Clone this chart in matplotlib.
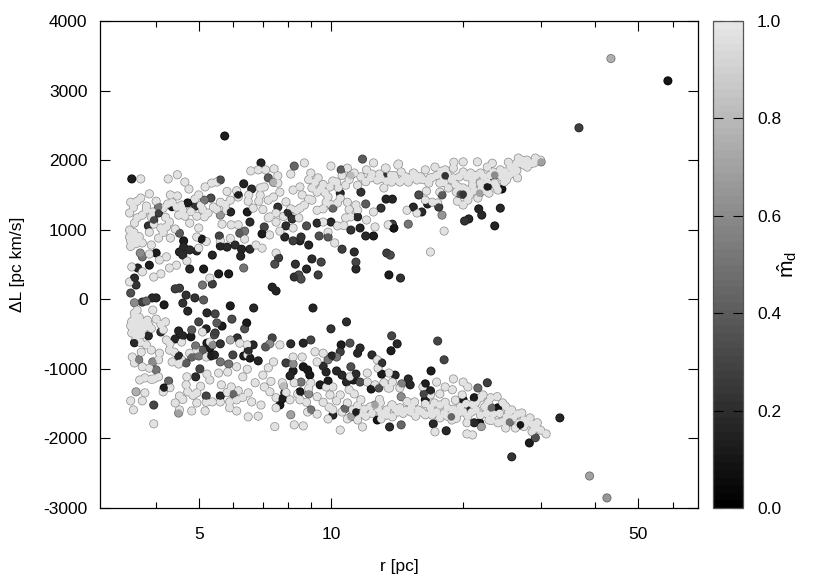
import matplotlib
matplotlib.use("Agg")
import matplotlib.pyplot as plt
from matplotlib.colors import LinearSegmentedColormap, Normalize
from matplotlib.cm import ScalarMappable
from matplotlib.ticker import FixedLocator, FixedFormatter, NullFormatter

plt.rcParams['font.family'] = ['Liberation Sans', 'DejaVu Sans']
plt.rcParams['axes.unicode_minus'] = False
plt.rcParams['mathtext.fontset'] = 'custom'
plt.rcParams['mathtext.rm'] = 'Liberation Sans'
plt.rcParams['mathtext.it'] = 'Liberation Sans'

X_LABEL = "r [pc]"
Y_LABEL = "ΔL [pc km/s]"
CBAR_LABEL = r"$\hat{\mathrm{m}}_{\mathrm{d}}$"
X_TICKS = [5, 10, 50]
X_MINOR = [4, 6, 7, 8, 9, 20, 30, 40, 60]
Y_TICKS = [-3000, -2000, -1000, 0, 1000, 2000, 3000, 4000]
CBAR_TICKS = [0.0, 0.2, 0.4, 0.6, 0.8, 1.0]
LIGHT_MD = 0.97

# (r, dL) of the nearly-white points: upper band
light_upper = [
(3.69,1730),(4.26,1730),(4.47,1790),(4.65,1685),(4.75,1585),(5.17,1615),(5.35,1670),(5.5,1685),(5,1500),(4.9,1440),
(4.31,1500),(4.47,1485),(3.86,1515),(3.69,1455),(3.62,1410),(3.5,1395),(4,1410),(4.25,1370),(4.45,1325),(4.57,1355),
(3.48,1240),(3.72,1210),(3.62,1170),(3.57,1095),(3.93,1255),(4.29,1110),(4.1,1025),(4.22,1040),(4.42,1010),(3.86,965),
(3.48,995),(3.48,895),(3.52,780),(3.62,850),(3.72,810),(3.9,780),(4.31,880),(5,1025),(4.95,895),(5,735),
(4.77,1095),(4.65,1195),(4.95,1195),(5.15,1185),(5.4,1325),(5.6,1395),(5.9,1425),(6.15,1470),(6.48,1410),(6.85,1410),
(7.2,1425),(7.4,1470),(7.65,1540),(6.9,1600),(7.05,1615),(6.57,1845),(6.83,1860),(7.1,1860),(7.42,1875),(7.57,1775),
(7.57,1670),(6.65,1310),(5.78,1280),(5.65,1080),(5.93,1070),(6.15,1070),(6.36,865),(6.75,780),(6.97,735),(7.25,925),
(7.65,980),(7.5,1110),(7.26,1185),(7.5,1240),(8.2,1570),(8.5,1615),(8.1,1800),(8.7,1960),(9,1815),(9.35,1745),
(9.05,1600),(9.3,1540),(9.05,1425),(10,1915),(10.9,1885),(11.3,1815),(12.05,1860),(12.5,1960),(13.35,1885),(14.2,1930),
(12.75,1715),(12.3,1745),(9.95,1615),(10.3,1685),(10.8,1640),(11.5,1640),(9.85,1470),(9.75,1395),(10.5,1455),(10.9,1395),
(11.4,1355),(11.5,1280),(10.35,1385),(8.5,1310),(8.35,1280),(8.7,1355),(8.45,1170),(7.2,1170),(9.6,1110),(10.35,1055),
(10.8,1170),(11.1,1185),(9.85,965),(10.2,810),(12.05,1140),(12.6,1040),(12.5,1255),(13.5,1070),(8.2,1025),(7.5,665),
(5.3,305),(3.95,320),(4.1,365),(4.29,450),(4.45,490),(4.07,565),(4.22,610),(3.72,395),(3.52,465),(3.48,250),
(3.86,650),(4.7,550),(5.9,875),(5.6,840),(5.2,830),
(13.3,1885),(14.25,1945),(14.45,1830),(15.4,1815),(16.4,1860),(17.25,1900),(19.05,1970),(20,1975),(21.55,1975),(23.3,1955),
(25.35,1970),(26.7,2030),(27.95,2000),(29.2,2030),(30,2000),(28.6,1955),(27.5,1930),(26,1885),(26.6,1745),(25.1,1715),
(24.3,1860),(24.8,1685),(23.4,1830),(22.7,1900),(21.9,1815),(20.8,1815),(20,1830),(19,1885),(18.2,1860),(17.7,1670),
(16.7,1670),(15.7,1715),(15,1685),(14.35,1685),(13.75,1685),(13.2,1600),(19,1745),(21,1715),(21.9,1670),(22.9,1525),
(24,1570),(23.6,1670),(18.5,1600),(19.5,1615),(20.4,1570),(21.6,1455),(20.5,1425),(20,1355),(19.4,1410),(17.7,1540),
(16.5,1555),(16.4,1425),(17,1395),(17.5,1385),(14.9,1280),(15.7,1240),(18.1,980),(16.85,680),(22,1600),(27,1955),
(25.9,1815),(24.5,1760),(22.7,1685),(13.9,1780),(14.8,1760),(16,1760),(17,1750),(18,1760),(12.9,1800),(13.7,1780),
# dense parts of the ridge and of the left blob
(10.6,1780),(10.1,1700),(9.6,1650),(9.2,1680),(9.5,1590),(8.9,1720),(9.7,1530),(10.4,1600),(11,1720),(11.7,1760),
(12,1690),(12.4,1800),(13,1740),(13.4,1700),(14,1730),(14.6,1720),(15.2,1740),(15.6,1780),(16.2,1720),(16.8,1740),
(17.4,1780),(17.8,1840),(18.4,1800),(18.8,1720),(19.6,1760),(20.4,1760),(21.4,1780),(22.3,1760),(23,1780),(24,1800),
(24.9,1830),(25.6,1900),(26.4,1950),(27.2,2000),(28.2,1960),(29,1960),(28,1900),(26.5,1850),(25.4,1780),(23.8,1620),
(22.4,1560),(21.2,1560),(20.7,1500),(20,1600),(19.3,1540),(21,1640),(19.2,1650),(18.1,1680),
(3.5,840),(3.54,900),(3.6,800),(3.56,960),(3.5,760),(3.66,900),(3.55,1320),(3.8,1340),(3.9,1180),(3.8,1290),
(4.15,1310),(4.35,1390),(4.6,1280),(4.8,1260),(5.1,1290),(5.25,1240),(5.05,1350),(5.5,1290),(4.05,880),(4.15,960),
(4.5,1210),(3.95,1080),(4.2,1180),(7,1290),(6.9,1495),(7.9,1400),(8.1,1300),(7.8,1190),(8.6,1500),(8.9,1440),
(9.3,1280),(9.6,1300),(10,1360),(11,1290),(10.7,1060),(6.5,1500),(6.1,1560),(5.8,1550),(5.75,1360),
]

# (r, dL) of the nearly-white points: lower band
light_lower = [
(3.62,-300),(3.52,-320),(3.53,-410),(3.52,-485),(3.67,-370),(3.72,-440),(3.62,-485),(3.57,-200),(3.82,-300),(4,-285),
(3.93,-155),(3.62,-155),(3.8,-655),(3.9,-730),(4.2,-325),(4.15,-440),(4.22,-585),(4.57,-615),(4.29,-730),(4.07,-775),
(4.05,-870),(4.35,-900),(3.53,-830),(3.57,-915),(3.72,-970),(3.86,-990),(4.57,-870),(4.77,-775),(4.95,-730),(5.1,-470),
(5.2,-830),(3.67,-1160),(3.77,-1130),(4.05,-1115),(3.95,-1145),(4.7,-1115),(4.68,-1230),(4.72,-1330),(4.95,-1345),(4.15,-1330),
(3.77,-1345),(3.5,-1460),(3.72,-1460),(3.55,-1590),(3.95,-1790),(4.52,-1390),(4.42,-1490),(4.52,-1590),(4.95,-1490),(4.82,-1605),
(5.17,-1605),(5.37,-1475),(5.6,-1475),(5.88,-1475),(5.88,-1560),(6.1,-1605),(6.48,-1690),(6.83,-1680),(6.93,-1520),(6.6,-1475),
(6.48,-1345),(6.3,-1115),(6.45,-1005),(6.1,-970),(5.82,-1045),(5.63,-1230),(5.93,-1260),(6.15,-1315),(6.1,-1445),(5.22,-1075),
(5.3,-1160),(6.2,-630),(6.45,-655),(7.65,-655),(7.4,-900),(7.2,-985),(7,-1090),(6.72,-1200),(7.05,-1260),(7.26,-1330),
(7.5,-1415),(7.75,-1200),(8.2,-830),(8.6,-830),(8.25,-1200),(8.5,-1445),(8.07,-1445),(7.45,-1830),(8.25,-1805),(8.65,-1820),
(7.5,-1560),(9.3,-1650),(8.85,-1620),(9.3,-1400),(9.75,-1260),(9.95,-1375),(10.1,-1260),(10.5,-1375),(9,-1200),(9.2,-755),
(9.6,-775),(9.3,-900),(9.85,-1720),(10.5,-1880),(11.8,-1835),(11.5,-1735),(10.1,-1590),(10.9,-1490),(11.7,-1445),(11.3,-1360),
(12.3,-1545),(13,-1635),(13.8,-1520),(13.8,-1690),(13.4,-1665),(14.2,-1620),(12.1,-1060),(12.8,-990),(12.75,-870),(13.55,-1060),
(12.1,-1190),(12.6,-1230),(13.6,-1275),(11.05,-1115),(6.45,-800),(5.3,-615),
(19,-1145),(20,-1190),(17.4,-1190),(18.2,-1260),(18.9,-1300),(19.9,-1375),(20.5,-1260),(17.7,-1360),(16.85,-1375),(13.8,-1190),
(14.35,-1275),(13.5,-1275),(13.75,-1520),(14.35,-1560),(15.25,-1545),(15.5,-1475),(16.1,-1620),(16.85,-1560),(17,-1665),(17.7,-1705),
(18.4,-1560),(18.85,-1735),(19.5,-1635),(19.7,-1545),(20.4,-1775),(17.25,-1905),(20.4,-1935),(21,-1950),(21.9,-1415),(22.2,-1375),
(23.1,-1415),(23.9,-1400),(21.4,-1590),(21.9,-1665),(22.9,-1735),(22.4,-1545),(24,-1775),(25,-1850),(24.6,-1490),(25.8,-1590),
(27.2,-1635),(28.4,-1705),(29.5,-1775),(30.9,-1935),(30,-1880),(28.7,-1905),(27.5,-1830),(26.3,-1850),(26,-1705),(25.1,-1690),
(27.5,-1735),(12.95,-1490),(16.2,-1260),(17.7,-1520),(14.8,-1600),(15.8,-1590),(16.4,-1500),(18.9,-1640),(11.9,-1580),(12.8,-1570),
# dense parts of the ridge and of the left blob
(12.4,-1640),(12,-1680),(11.2,-1590),(10.6,-1620),(11.6,-1650),(13,-1720),(13.4,-1590),(14,-1570),(14.6,-1640),(15.2,-1620),
(15.6,-1680),(16.4,-1660),(16.9,-1640),(17.4,-1620),(18.1,-1640),(18.4,-1680),(19,-1580),(19.3,-1710),(20,-1620),(20.5,-1680),
(21,-1510),(20.9,-1620),(22.6,-1640),(23.4,-1650),(23.2,-1740),(24.2,-1640),(25,-1540),(25.4,-1620),(26.6,-1650),(26.8,-1780),
(27.9,-1780),(28.8,-1800),(29.3,-1850),(24.6,-1760),(21.4,-1480),(22.8,-1480),(20.3,-1500),(19.2,-1450),(18.2,-1480),(17.2,-1490),
(3.56,-380),(3.6,-440),(3.66,-260),(3.72,-330),(3.78,-400),(3.5,-380),(3.58,-250),(3.84,-360),(3.9,-420),(3.7,-510),
(3.6,-560),(3.68,-620),(4.1,-360),(4.3,-640),(4.4,-760),(3.7,-760),(4.5,-930),(3.9,-1150),(4.3,-1270),(4.6,-1440),
(4.85,-1380),(5.05,-1250),(5.2,-1480),(5.55,-1060),(5.8,-1340),(6.3,-1410),(7.3,-1180),(7.9,-1340),(8.4,-1360),(8.8,-1480),
(8.9,-1280),(9.6,-1480),(9.9,-1550),(10.9,-1720),(10.3,-1460),(11,-1300),(11.5,-1530),(12.9,-1440),(13.2,-1200),(14.9,-1470),
]

# (r, dL, md) of the middle-grey points
grey_points = [
(5.6,1715,.35),(11.8,2015,.4),(8.25,1915,.45),(10.55,1860,.4),(7.2,1745,.4),(5.33,1455,.25),(5.15,1425,.5),(4.05,1325,.5),(3.95,1140,.3),(4.52,950,.4),
(5.57,910,.3),(6.36,980,.5),(6.2,950,.4),(7.05,1040,.3),(8.8,1055,.35),(9.4,910,.35),(9.85,895,.4),(12,1370,.4),(10.1,1310,.45),(6.33,450,.5),
(5.1,205,.5),(5.13,-10,.4),(3.57,-50,.6),(3.5,90,.35),(3.8,-25,.45),(5.6,1210,.65),(3.72,610,.5),(3.68,665,.6),(7.4,1680,.75),(11.1,1780,.8),
(30.1,1975,.7),(21.8,1525,.7),(17.9,1500,.4),(17.9,1210,.65),(15,1080,.5),(19.7,1510,.4),(23.6,1785,.6),(15.85,1500,.25),
(5,-325,.3),(5.5,-340,.4),(4.82,-440,.4),(6.36,-425,.35),(7.35,-555,.3),(7.26,-640,.6),(7.1,-685,.4),(5.9,-585,.75),(9,-585,.3),(11.05,-630,.35),
(13.75,-525,.3),(5.43,-510,.25),(5.37,-655,.6),(4.92,-670,.5),(5.1,-730,.4),(4.82,-830,.45),(5,-815,.5),(4.68,-915,.4),(5.98,-800,.3),(5.6,-900,.5),
(5.85,-930,.5),(3.93,-900,.6),(3.65,-870,.55),(4,-1015,.5),(5.03,-1000,.3),(4.27,-1175,.45),(5.2,-1390,.3),(5.6,-1390,.1),(6,-1360,.45),(3.6,-1330,.75),
(3.95,-1520,.3),(4.5,-1635,.7),(8.1,-1660,.7),(8.9,-1360,.6),(8.55,-1190,.5),(9.85,-870,.5),(10.3,-830,.5),(11.1,-970,.35),(11.65,-1190,.35),(12.85,-1275,.35),
(10.75,-1575,.45),(12.6,-1520,.7),(11.1,-1690,.7),(9,-1590,.5),(7.8,-1245,.8),(8.2,-930,.6),
(17.5,-600,.3),(18.1,-870,.3),(22.7,-1200,.2),(16.3,-1360,.3),(21.6,-1275,.45),(14.45,-1400,.6),(14.5,-1215,.55),(14.45,-1805,.45),(23.2,-1560,.45),(25.5,-1765,.5),
(22,-1830,.7),(18.8,-1690,.45),(29.2,-1990,.35),(25.8,-2265,.15),
(36.7,2465,.2),(43.4,3460,.75),(38.8,-2540,.7),(42.5,-2855,.65),
]

# (r, dL, md) of the darkest points
dark_points = [
(5.73,2347,.05),(3.52,1730,.05),(6.93,1960,.08),(6.33,1660,.08),(6.6,1585,.12),(6.15,1500,.05),(4.92,1340,.15),(4.72,1385,.05),(4.35,1330,.05),(4.05,1240,.2),
(3.84,1055,.15),(5.91,1255,.1),(6.45,1255,.05),(6.54,1110,.12),(7.57,1325,.15),(7.98,1240,.12),(8.16,1155,.15),(7.9,1055,.12),(7.85,895,.1),(8.2,840,.2),
(8.5,840,.08),(8.55,895,.15),(8.9,780,.08),(9.3,1095,.12),(10,1110,.1),(11.1,995,.15),(11.65,1025,.08),(11.5,1185,.1),(13,1310,.15),(13.35,1440,.08),
(13.8,1440,.08),(11.7,1540,.15),(10.5,1525,.1),(12,910,.1),(12.5,910,.05),(13.9,1025,.05),(10.6,720,.2),(11.3,680,.12),(11.4,535,.3),(11.4,435,.1),
(9.05,580,.12),(9.5,535,.22),(8.8,435,.1),(8.3,505,.15),(9.35,350,.2),(8.45,350,.25),(8.55,290,.25),(8.25,320,.15),(7.45,505,.25),(7.6,595,.2),
(7.35,175,.08),(7.5,120,.08),(13.55,350,.05),(13.4,665,.2),(13.65,635,.25),(6.97,940,.05),(6.54,720,.12),(6.26,720,.08),(6.23,620,.1),(6.05,780,.12),
(5.8,750,.1),(5.6,765,.08),(5.37,635,.08),(5.08,865,.05),(4.62,840,.05),(4.62,750,.1),(4.52,680,.1),(4.6,635,.12),(4.95,695,.1),(4.77,710,.12),
(4,665,.05),(3.86,490,.05),(3.63,450,.1),(3.57,305,.12),(3.6,205,.15),(4.77,435,.1),(5.13,435,.05),(5.55,365,.05),(5.85,365,.05),(5.37,220,.2),
(4.42,150,.2),(4.52,160,.2),(4.68,60,.15),(4.6,-55,.15),(4.9,20,.15),(4.17,-80,.05),(3.92,20,.1),(4,20,.1),(3.72,-40,.2),(5.9,-95,.05),
(6.67,-125,.1),(9.1,-125,.08),
(13.2,1760,.15),(15.4,1325,.1),(16.1,1255,.12),(17.6,1325,.2),(16.6,1370,.1),(18.2,1775,.15),(21.7,1300,.08),(22.05,1210,.1),(24.3,1310,.1),(23.6,1055,.08),
(20.6,1155,.1),(20.15,1125,.15),(22.7,1730,.02),(22.7,1615,.05),(24.5,1585,.02),(20,1510,.15),(13.8,1080,.2),(13.9,1025,.02),(14.4,305,.15),(58.5,3140,.02),
(4.72,-170,.1),(5.22,-195,.1),(5.45,-210,.3),(5.95,-285,.25),(5.65,-385,.05),(6.43,-340,.03),(5.2,-425,.08),(4.5,-455,.08),(4.1,-470,.15),(4.6,-525,.1),
(4.8,-540,.05),(4.42,-570,.08),(3.84,-525,.1),(3.57,-625,.1),(6.12,-555,.15),(5.45,-485,.2),(5.22,-630,.05),(5.6,-640,.15),(5.3,-700,.05),(5.33,-815,.05),
(5.43,-800,.08),(4.5,-815,.12),(6.65,-655,.1),(6.48,-740,.12),(6.33,-815,.05),(6.54,-845,.05),(6.83,-885,.08),(8.1,-640,.12),(8.65,-630,.08),(10,-425,.15),
(10.85,-325,.12),(10.55,-655,.05),(10.5,-755,.2),(10.05,-815,.08),(11.65,-700,.12),(11.5,-775,.1),(12.4,-800,.12),(13.05,-915,.15),(13.7,-740,.05),(14.15,-640,.1),
(7.9,-915,.2),(8.65,-970,.03),(8.85,-1015,.03),(8.95,-1090,.03),(8.2,-1030,.05),(8.07,-1100,.08),(9.6,-960,.12),(9.75,-1045,.08),(10.3,-1030,.1),(10.6,-1090,.1),
(10.85,-1190,.1),(9.85,-1175,.05),(9.45,-1230,.05),(11.4,-1075,.12),(11.25,-1160,.05),(12.35,-1290,.05),(14,-1090,.1),(13.05,-1075,.05),(4.92,-1115,.12),(4.17,-1275,.05),
(7.85,-1345,.15),(7.75,-1430,.05),(7.65,-1520,.03),(8.5,-1330,.05),(12.75,-1735,.02),(13.6,-1835,.12),(10.1,-1665,.1),(11.4,-1620,.05),
(16.9,-1030,.05),(16.4,-1215,.05),(15,-1145,.1),(15.15,-1230,.1),(16.4,-1445,.03),(16.85,-1315,.08),(17.1,-1790,.1),(18.3,-1890,.1),(21.8,-1775,.02),(21.2,-1775,.1),
(20.8,-1560,.1),(21.2,-1415,.05),(20,-1445,.05),(33.2,-1705,.08),(28.3,-2065,.05),(27,-1805,.02),(24,-1560,.02),
]

# half of the dark points lie beneath the light ones, half on top
all_points = (dark_points[::2] + [(r, d, LIGHT_MD) for r, d in light_upper + light_lower]
              + grey_points + dark_points[1::2])
r_values = [p[0] for p in all_points]
dL_values = [p[1] for p in all_points]
md_values = [p[2] for p in all_points]

cmap = LinearSegmentedColormap.from_list("gnu", ["#000000", "#e6e6e6"], N=64)
norm = Normalize(0, 1)

fig = plt.figure(figsize=(8.3, 5.81), dpi=100)
W, H = 830, 581
ax = fig.add_axes([100/W, 1-508/H, 598/W, 487/H])
ax.set_xscale("log")
# outlines below, fills above: touching light points merge into one blob
edge_colors = [cmap(norm(m * 0.62)) for m in md_values]
ax.scatter(r_values, dL_values, s=42, c=edge_colors, linewidths=0, zorder=2)
ax.scatter(r_values, dL_values, s=30, c=[m + 0.08 if m < 0.3 else m for m in md_values],
           cmap=cmap, norm=norm, linewidths=0, zorder=3)
ax.set_xlim(2.98, 68.5)
ax.set_ylim(-3000, 4000)
ax.xaxis.set_major_locator(FixedLocator(X_TICKS))
ax.xaxis.set_major_formatter(FixedFormatter([str(t) for t in X_TICKS]))
ax.xaxis.set_minor_locator(FixedLocator(X_MINOR))
ax.xaxis.set_minor_formatter(NullFormatter())
ax.set_yticks(Y_TICKS)
ax.tick_params(axis="both", which="major", direction="in", length=7, width=0.8,
               top=True, right=True, labelsize=12.5, pad=9)
ax.tick_params(axis="x", which="minor", direction="in", length=4, width=0.8, top=True)
ax.tick_params(axis="x", which="major", pad=14)
ax.set_xlabel(X_LABEL, fontsize=12.5, labelpad=12)
ax.set_ylabel(Y_LABEL, fontsize=12.5, labelpad=13)
for s in ax.spines.values():
    s.set_linewidth(0.9)

cax = fig.add_axes([713/W, 1-508/H, 30/W, 487/H])
cb = fig.colorbar(ScalarMappable(norm=norm, cmap=cmap), cax=cax)
cb.set_ticks(CBAR_TICKS)
cb.set_ticklabels([f"{t:.1f}" for t in CBAR_TICKS])
cax.tick_params(which="both", direction="in", length=7, width=0.8, left=True, right=True,
                labelsize=12.5, pad=10)
cb.outline.set_edgecolor("#555555")
cb.outline.set_linewidth(0.9)
cb.set_label(CBAR_LABEL, fontsize=15, labelpad=-4)

fig.savefig("out.png", dpi=100)
